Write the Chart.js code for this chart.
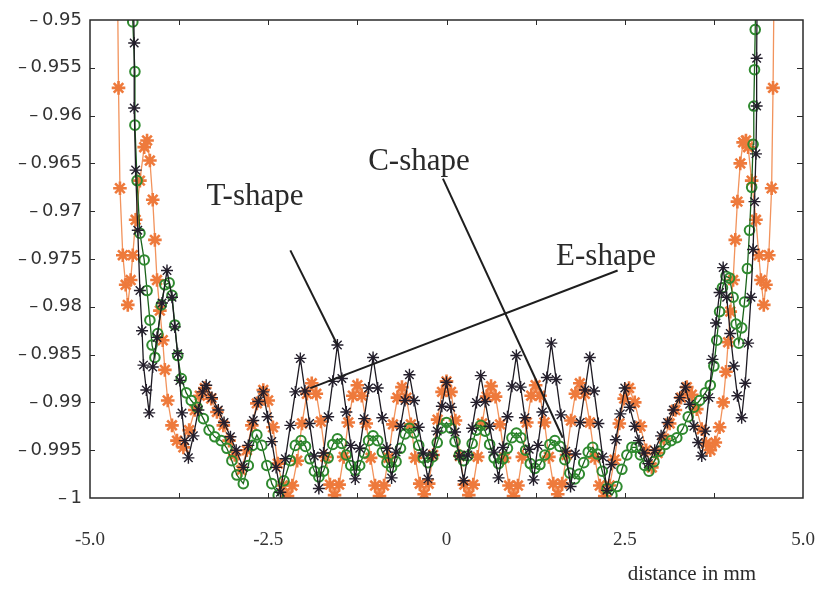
<!DOCTYPE html>
<html>
<head>
<meta charset="utf-8">
<script src="https://cdn.jsdelivr.net/npm/chart.js@4.4.1/dist/chart.umd.min.js"></script>
<style>
  html, body { margin: 0; padding: 0; background: #ffffff; }
  #wrap { width: 822px; height: 589px; }
</style>
</head>
<body>
<div id="wrap"><canvas id="profile" width="822" height="589"></canvas></div>
<script>
// Bottom axis: values that carry a label, and the labels printed under them
const xLabelValues = [-5, -2.5, 0, 2.5, 5];
const xTickLabels = ['-5.0', '-2.5', '0', '2.5', '5.0'];

// T-shape profile: [distance (mm), value]
const tShape = [
  [-4.40,-0.9440],[-4.38,-0.9524],[-4.38,-0.9592],[-4.36,-0.9657],[-4.33,-0.9720],[-4.30,-0.9783],[-4.27,-0.9825],[-4.25,-0.9861],[-4.21,-0.9887],[-4.17,-0.9911],
  [-4.12,-0.9863],[-4.06,-0.9832],[-3.99,-0.9796],[-3.92,-0.9762],[-3.85,-0.9790],[-3.81,-0.9821],[-3.77,-0.9849],[-3.74,-0.9877],[-3.71,-0.9911],[-3.67,-0.9940],[-3.62,-0.9958],
  [-3.55,-0.9935],[-3.48,-0.9908],[-3.42,-0.9889],[-3.37,-0.9882],[-3.29,-0.9895],[-3.20,-0.9908],[-3.12,-0.9921],[-3.03,-0.9936],[-2.95,-0.9950],[-2.85,-0.9968],
  [-2.78,-0.9945],[-2.71,-0.9919],[-2.64,-0.9899],[-2.57,-0.9889],
  [-2.51,-0.9915],[-2.45,-0.9941],[-2.39,-0.9968],[-2.33,-0.9994],
  [-2.26,-0.9959],[-2.19,-0.9924],[-2.12,-0.9889],[-2.05,-0.9854],
  [-1.985,-0.9888],[-1.92,-0.9922],[-1.855,-0.9956],[-1.79,-0.9990],
  [-1.725,-0.9953],[-1.66,-0.9915],[-1.595,-0.9878],[-1.53,-0.9840],
  [-1.4675,-0.9875],[-1.405,-0.9910],[-1.3425,-0.9945],[-1.28,-0.9980],
  [-1.2175,-0.9948],[-1.155,-0.9917],[-1.0925,-0.9885],[-1.03,-0.9853],
  [-0.965,-0.9885],[-0.90,-0.9916],[-0.835,-0.9948],[-0.77,-0.9979],
  [-0.7075,-0.9952],[-0.645,-0.9925],[-0.5825,-0.9898],[-0.52,-0.9871],
  [-0.455,-0.9898],[-0.39,-0.9926],[-0.325,-0.9953],[-0.26,-0.9980],
  [-0.195,-0.9955],[-0.13,-0.9930],[-0.065,-0.9904],[0,-0.9879],
  [0.06,-0.9905],[0.12,-0.9931],[0.18,-0.9956],[0.24,-0.9982],
  [0.30,-0.9955],[0.36,-0.9927],[0.42,-0.9900],[0.48,-0.9872],
  [0.5425,-0.9899],[0.605,-0.9925],[0.6675,-0.9952],[0.73,-0.9979],
  [0.7925,-0.9947],[0.855,-0.9915],[0.9175,-0.9883],[0.98,-0.9851],
  [1.04,-0.9884],[1.10,-0.9916],[1.16,-0.9949],[1.22,-0.9981],
  [1.2825,-0.9945],[1.345,-0.9910],[1.4075,-0.9874],[1.47,-0.9838],
  [1.5375,-0.9876],[1.605,-0.9913],[1.6725,-0.9951],[1.74,-0.9988],
  [1.8075,-0.9954],[1.875,-0.9921],[1.9425,-0.9887],[2.01,-0.9853],
  [2.07,-0.9888],[2.13,-0.9922],[2.19,-0.9957],[2.25,-0.9992],
  [2.3125,-0.9965],[2.375,-0.9939],[2.4375,-0.9912],[2.50,-0.9885],
  [2.57,-0.9905],[2.64,-0.9925],[2.70,-0.9940],[2.77,-0.9953],[2.83,-0.9964],
  [2.92,-0.9950],[3.01,-0.9935],[3.10,-0.9921],[3.18,-0.9908],[3.27,-0.9895],[3.35,-0.9884],
  [3.41,-0.9902],[3.47,-0.9925],[3.53,-0.9942],[3.58,-0.9956],
  [3.63,-0.9930],[3.68,-0.9895],[3.73,-0.9855],[3.78,-0.9817],[3.83,-0.9785],[3.88,-0.9759],
  [3.93,-0.9790],[3.98,-0.9828],[4.03,-0.9862],[4.08,-0.9893],[4.14,-0.9916],
  [4.19,-0.9880],[4.23,-0.9838],[4.27,-0.9790],[4.30,-0.9740],[4.32,-0.9690],[4.34,-0.9640],[4.35,-0.9590],[4.35,-0.9540],[4.36,-0.9440]
];

// E-shape profile
const eShape = [
  [-4.62,-0.9420],[-4.60,-0.9571],[-4.58,-0.9676],[-4.54,-0.9746],[-4.50,-0.9777],[-4.47,-0.9798],[-4.43,-0.9772],[-4.40,-0.9746],[-4.36,-0.9709],[-4.30,-0.9668],
  [-4.24,-0.9633],[-4.20,-0.9626],[-4.16,-0.9647],[-4.12,-0.9688],[-4.09,-0.9730],[-4.06,-0.9772],[-4.02,-0.9804],[-3.98,-0.9835],[-3.95,-0.9866],[-3.91,-0.9898],
  [-3.85,-0.9924],[-3.78,-0.9940],[-3.69,-0.9947],[-3.61,-0.9929],[-3.53,-0.9908],[-3.46,-0.9893],[-3.39,-0.9885],[-3.30,-0.9896],[-3.22,-0.9910],[-3.13,-0.9924],
  [-3.05,-0.9940],[-2.97,-0.9955],[-2.88,-0.9971],[-2.80,-0.9950],[-2.73,-0.9924],[-2.66,-0.9901],[-2.57,-0.9887],
  [-2.502,-0.9898],[-2.434,-0.9926],[-2.366,-0.9964],[-2.298,-0.9987],[-2.23,-0.9998],
  [-2.162,-0.9987],[-2.094,-0.9961],[-2.026,-0.9922],[-1.958,-0.9891],[-1.89,-0.9880],
  [-1.826,-0.9891],[-1.762,-0.9920],[-1.698,-0.9957],[-1.634,-0.9986],[-1.57,-0.9997],
  [-1.506,-0.9986],[-1.442,-0.9957],[-1.378,-0.9921],[-1.314,-0.9893],[-1.25,-0.9882],
  [-1.188,-0.9893],[-1.126,-0.9922],[-1.064,-0.9958],[-1.002,-0.9987],[-0.94,-0.9998],
  [-0.877,-0.9987],[-0.814,-0.9958],[-0.751,-0.9923],[-0.688,-0.9895],[-0.625,-0.9884],
  [-0.5625,-0.9895],[-0.5,-0.9923],[-0.4375,-0.9958],[-0.375,-0.9985],[-0.3125,-0.9996],
  [-0.25,-0.9985],[-0.1875,-0.9955],[-0.125,-0.9918],[-0.0625,-0.9889],[0,-0.9878],
  [0.0625,-0.9889],[0.125,-0.9919],[0.1875,-0.9956],[0.25,-0.9986],[0.3125,-0.9997],
  [0.375,-0.9986],[0.4375,-0.9957],[0.5,-0.9922],[0.5625,-0.9894],[0.625,-0.9883],
  [0.688,-0.9894],[0.751,-0.9923],[0.814,-0.9958],[0.877,-0.9987],[0.94,-0.9998],
  [1.002,-0.9987],[1.064,-0.9957],[1.126,-0.9921],[1.188,-0.9893],[1.25,-0.9882],
  [1.312,-0.9893],[1.374,-0.9921],[1.436,-0.9957],[1.498,-0.9985],[1.56,-0.9996],
  [1.622,-0.9985],[1.684,-0.9955],[1.746,-0.9919],[1.808,-0.9891],[1.87,-0.9880],
  [1.94,-0.9891],[2.01,-0.9921],[2.08,-0.9958],[2.15,-0.9987],[2.22,-0.9998],
  [2.288,-0.9987],[2.356,-0.9960],[2.424,-0.9922],[2.492,-0.9896],[2.56,-0.9885],
  [2.64,-0.9900],[2.72,-0.9925],[2.80,-0.9950],[2.88,-0.9968],
  [2.96,-0.9953],[3.05,-0.9938],[3.13,-0.9922],[3.21,-0.9908],[3.29,-0.9895],[3.37,-0.9884],
  [3.44,-0.9892],[3.51,-0.9907],[3.58,-0.9928],[3.64,-0.9943],[3.70,-0.9950],
  [3.77,-0.9942],[3.83,-0.9926],[3.88,-0.9900],[3.92,-0.9868],[3.95,-0.9837],[3.98,-0.9805],[4.02,-0.9772],[4.05,-0.9730],[4.08,-0.9690],[4.12,-0.9650],[4.16,-0.9628],[4.20,-0.9626],
  [4.23,-0.9633],[4.28,-0.9668],[4.34,-0.9709],[4.38,-0.9746],[4.41,-0.9772],[4.45,-0.9798],
  [4.48,-0.9777],[4.52,-0.9746],[4.56,-0.9676],[4.58,-0.9571],[4.60,-0.9420]
];

// C-shape profile
const cShape = [
  [-4.42,-0.9420],[-4.40,-0.9502],[-4.37,-0.9554],[-4.37,-0.9610],[-4.34,-0.9668],[-4.30,-0.9723],[-4.24,-0.9751],[-4.20,-0.9783],[-4.16,-0.9814],[-4.13,-0.9840],
  [-4.09,-0.9853],[-4.05,-0.9828],[-4.00,-0.9798],[-3.95,-0.9777],[-3.89,-0.9775],[-3.85,-0.9788],[-3.81,-0.9819],[-3.77,-0.9851],[-3.72,-0.9875],[-3.65,-0.9890],
  [-3.58,-0.9898],[-3.50,-0.9905],[-3.41,-0.9917],[-3.33,-0.9929],[-3.25,-0.9936],[-3.16,-0.9940],[-3.08,-0.9948],[-3.01,-0.9961],[-2.94,-0.9976],[-2.85,-0.9985],
  [-2.78,-0.9966],[-2.72,-0.9945],[-2.66,-0.9934],[-2.59,-0.9945],[-2.52,-0.9966],[-2.45,-0.9985],[-2.36,-0.9997],[-2.28,-0.9982],[-2.19,-0.9961],[-2.12,-0.9945],[-2.04,-0.9940],
  [-1.9775,-0.9946],[-1.915,-0.9959],[-1.8525,-0.9972],[-1.79,-0.9978],
  [-1.725,-0.9972],[-1.66,-0.9958],[-1.595,-0.9944],[-1.53,-0.9938],
  [-1.4675,-0.9943],[-1.405,-0.9955],[-1.3425,-0.9966],[-1.28,-0.9971],
  [-1.2175,-0.9966],[-1.155,-0.9953],[-1.0925,-0.9940],[-1.03,-0.9935],
  [-0.965,-0.9940],[-0.90,-0.9952],[-0.835,-0.9963],[-0.77,-0.9968],
  [-0.7075,-0.9962],[-0.645,-0.9948],[-0.5825,-0.9933],[-0.52,-0.9927],
  [-0.455,-0.9932],[-0.39,-0.9945],[-0.325,-0.9958],[-0.26,-0.9963],
  [-0.195,-0.9957],[-0.13,-0.9942],[-0.065,-0.9927],[0,-0.9921],
  [0.06,-0.9927],[0.12,-0.9941],[0.18,-0.9955],[0.24,-0.9961],
  [0.30,-0.9956],[0.36,-0.9943],[0.42,-0.9929],[0.48,-0.9924],
  [0.5425,-0.9930],[0.605,-0.9944],[0.6675,-0.9958],[0.73,-0.9964],
  [0.7925,-0.9959],[0.855,-0.9948],[0.9175,-0.9937],[0.98,-0.9932],
  [1.045,-0.9937],[1.11,-0.9950],[1.175,-0.9964],[1.24,-0.9969],
  [1.31,-0.9965],[1.38,-0.9955],[1.45,-0.9944],[1.52,-0.9940],
  [1.59,-0.9946],[1.66,-0.9960],[1.73,-0.9974],[1.80,-0.9980],
  [1.8625,-0.9975],[1.925,-0.9963],[1.9875,-0.9952],[2.05,-0.9947],
  [2.1175,-0.9954],[2.185,-0.9972],[2.2525,-0.9990],[2.32,-0.9997],
  [2.39,-0.9988],[2.46,-0.9970],[2.53,-0.9955],[2.60,-0.9947],[2.66,-0.9947],[2.72,-0.9955],[2.78,-0.9966],[2.84,-0.9972],
  [2.91,-0.9962],[2.99,-0.9951],[3.07,-0.9944],[3.15,-0.9940],[3.23,-0.9937],[3.31,-0.9928],[3.39,-0.9915],[3.47,-0.9905],[3.55,-0.9898],[3.63,-0.9890],
  [3.70,-0.9882],[3.75,-0.9862],[3.79,-0.9835],[3.83,-0.9805],[3.87,-0.9780],[3.92,-0.9768],[3.97,-0.9770],[4.02,-0.9790],[4.06,-0.9818],[4.10,-0.9838],
  [4.14,-0.9822],[4.18,-0.9795],[4.22,-0.9760],[4.25,-0.9720],[4.28,-0.9675],[4.30,-0.9630],[4.31,-0.9590],[4.32,-0.9552],[4.33,-0.9510],[4.35,-0.9420]
];

// Callout texts: label position and the leader line from the label to its curve
const callouts = [
  { text: 'T-shape', at: [-2.686, -0.96937], from: [-2.19, -0.9741], to: [-1.53, -0.9840] },
  { text: 'C-shape', at: [-0.386, -0.96571], from: [-0.05, -0.9666], to: [1.63, -0.9937] },
  { text: 'E-shape', at: [2.237, -0.97565], from: [2.40, -0.9762], to: [-1.91, -0.9885] }
];

const toPoints = rows => rows.map(([x, y]) => ({ x, y }));

// Frame with inward tick marks, callouts and the axis caption
const framePlugin = {
  id: 'frame',
  afterDraw(chart) {
    const { ctx, chartArea: a, scales: { x, y } } = chart;
    ctx.save();
    ctx.strokeStyle = '#2a2a2a';
    ctx.lineWidth = 1.5;
    ctx.strokeRect(a.left, a.top, a.right - a.left, a.bottom - a.top);

    ctx.lineWidth = 1;
    ctx.beginPath();
    x.ticks.forEach(t => {
      const px = Math.round(x.getPixelForValue(t.value)) + 0.5;
      if (px <= a.left + 2 || px >= a.right - 2) return;
      ctx.moveTo(px, a.bottom); ctx.lineTo(px, a.bottom - 5);
      ctx.moveTo(px, a.top); ctx.lineTo(px, a.top + 5);
    });
    y.ticks.forEach(t => {
      const py = Math.round(y.getPixelForValue(t.value)) + 0.5;
      if (py <= a.top + 2 || py >= a.bottom - 2) return;
      ctx.moveTo(a.left, py); ctx.lineTo(a.left + 5, py);
      ctx.moveTo(a.right, py); ctx.lineTo(a.right - 6, py);
    });
    ctx.stroke();

    ctx.strokeStyle = '#1e1e1e';
    ctx.lineWidth = 2;
    ctx.fillStyle = '#2a2a2a';
    ctx.font = '31px "Liberation Serif", "Times New Roman", serif';
    ctx.textAlign = 'center';
    ctx.textBaseline = 'alphabetic';
    callouts.forEach(c => {
      ctx.beginPath();
      ctx.moveTo(x.getPixelForValue(c.from[0]), y.getPixelForValue(c.from[1]));
      ctx.lineTo(x.getPixelForValue(c.to[0]), y.getPixelForValue(c.to[1]));
      ctx.stroke();
      ctx.fillText(c.text, x.getPixelForValue(c.at[0]), y.getPixelForValue(c.at[1]));
    });

    ctx.font = '21px "Liberation Serif", "Times New Roman", serif';
    ctx.fillText('distance in mm', a.right - 111, a.bottom + 82);
    ctx.restore();
  }
};

new Chart(document.getElementById('profile'), {
  type: 'line',
  data: {
    datasets: [
      {
        label: 'T-shape',
        data: toPoints(tShape),
        borderColor: '#1d1a22',
        borderWidth: 1.3,
        pointStyle: 'star',
        pointRadius: 6,
        pointBorderColor: '#241f2c',
        pointBorderWidth: 1.4,
        pointBackgroundColor: '#241f2c',
        tension: 0
      },
      {
        label: 'C-shape',
        data: toPoints(cShape),
        borderColor: '#1a631a',
        borderWidth: 1.3,
        pointStyle: 'circle',
        pointRadius: 4.8,
        pointBorderColor: '#2f8a2f',
        pointBorderWidth: 2,
        pointBackgroundColor: 'rgba(0,0,0,0)',
        tension: 0
      },
      {
        label: 'E-shape',
        data: toPoints(eShape),
        borderColor: '#f2935c',
        borderWidth: 1.3,
        pointStyle: 'star',
        pointRadius: 6.8,
        pointBorderColor: '#ee7a3c',
        pointBorderWidth: 2.6,
        pointBackgroundColor: '#ee7a3c',
        tension: 0
      }
    ]
  },
  options: {
    responsive: false,
    animation: false,
    devicePixelRatio: 1,
    layout: { padding: { top: 20, right: 19, left: 0, bottom: 0 } },
    plugins: { legend: { display: false }, tooltip: { enabled: false } },
    scales: {
      x: {
        type: 'linear',
        min: -5,
        max: 5,
        grid: { display: false, drawTicks: false },
        border: { display: false },
        afterFit(scale) {
          scale.height = 91;
          scale.paddingLeft = 0;
          scale.paddingRight = 0;
        },
        ticks: {
          stepSize: 1.25,
          autoSkip: false,
          maxRotation: 0,
          padding: 31,
          color: '#333333',
          font: { family: '"Liberation Serif", "Times New Roman", serif', size: 19 },
          callback(value) {
            const i = xLabelValues.indexOf(value);
            return i >= 0 ? xTickLabels[i] : '';
          }
        }
      },
      y: {
        type: 'linear',
        min: -1,
        max: -0.95,
        grid: { display: false, drawTicks: false },
        border: { display: false },
        afterFit(scale) {
          scale.width = 90;
          scale.paddingTop = 0;
          scale.paddingBottom = 0;
        },
        ticks: {
          stepSize: 0.005,
          padding: 8,
          color: '#333333',
          font: { family: '"DejaVu Sans", sans-serif', size: 18 },
          callback(value) {
            const s = Math.abs(value).toFixed(3).replace(/0+$/, '').replace(/\.$/, '');
            return '\u2013\u2009' + s;
          }
        }
      }
    }
  },
  plugins: [framePlugin]
});
</script>
</body>
</html>
